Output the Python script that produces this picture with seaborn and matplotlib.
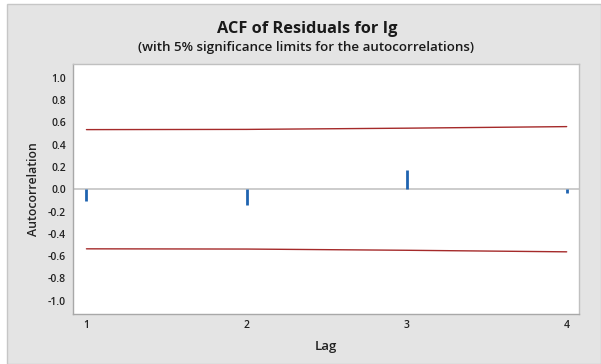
import matplotlib
matplotlib.use("Agg")
import matplotlib.pyplot as plt
import seaborn as sns
import pandas as pd
from matplotlib.patches import Rectangle

lags = [1, 2, 3, 4]
acf = [-0.11, -0.14, 0.17, -0.03]
upper = [0.535, 0.537, 0.548, 0.562]
lower = [-0.535, -0.537, -0.548, -0.562]
yticks = [-1.0, -0.8, -0.6, -0.4, -0.2, 0.0, 0.2, 0.4, 0.6, 0.8, 1.0]

sns.set_style("white")
plt.rcParams['font.family'] = ['Open Sans', 'DejaVu Sans']

W, H = 601, 364
fig = plt.figure(figsize=(W / 100, H / 100), dpi=100, facecolor='white')
fig.patches.append(Rectangle((7 / W, 0), 1 - 7 / W, 1 - 4 / H, transform=fig.transFigure,
                             facecolor='#e4e4e4', edgecolor='#c6c6c6', linewidth=1, zorder=-1))

ax = fig.add_axes([73 / W, 1 - 314 / H, (579 - 73) / W, (314 - 64) / H])
ax.set_facecolor('white')

df = pd.DataFrame({'Lag': lags, 'ACF': acf, 'Upper': upper, 'Lower': lower})

ax.axhline(0, color='#c8c8c8', linewidth=1.3, zorder=1)
sns.lineplot(data=df, x='Lag', y='Upper', ax=ax, color='#a52a2a', linewidth=1.0, zorder=2)
sns.lineplot(data=df, x='Lag', y='Lower', ax=ax, color='#a52a2a', linewidth=1.0, zorder=2)
ax.vlines(df['Lag'], 0, df['ACF'], color='#1f63b0', linewidth=2.0, zorder=3)

ax.set_xlim(0.916, 4.077)
ax.set_ylim(-1.12, 1.124)
ax.set_xticks(lags)
ax.set_xticklabels([str(l) for l in lags])
ax.set_yticks(yticks)
ax.set_yticklabels([f"{v:.1f}" for v in yticks])

for s in ['left', 'bottom']:
    ax.spines[s].set_color('#a8a8a8')
    ax.spines[s].set_linewidth(1.0)
for s in ['top', 'right']:
    ax.spines[s].set_color('#c0c0c0')
    ax.spines[s].set_linewidth(1.0)

ax.tick_params(axis='both', direction='out', length=3, width=0.8, color='#a0a0a0',
               labelsize=7.5, labelcolor='#222222', pad=2)
ax.tick_params(axis='x', pad=1.5)
for lbl in ax.get_xticklabels() + ax.get_yticklabels():
    lbl.set_fontweight('semibold')

ax.set_xlabel('Lag', fontsize=9.5, fontweight='semibold', color='#222222', labelpad=6)
ax.set_ylabel('Autocorrelation', fontsize=8.8, fontweight='semibold', color='#222222', labelpad=6)

fig.text(307 / W, 1 - 29 / H, 'ACF of Residuals for Ig', ha='center', va='center',
         fontsize=11.8, fontweight='bold', color='#1a1a1a')
fig.text(306 / W, 1 - 47 / H, '(with 5% significance limits for the autocorrelations)',
         ha='center', va='center', fontsize=9.6, fontweight='semibold', color='#1a1a1a')

fig.savefig('out.png', dpi=100, facecolor='white')
